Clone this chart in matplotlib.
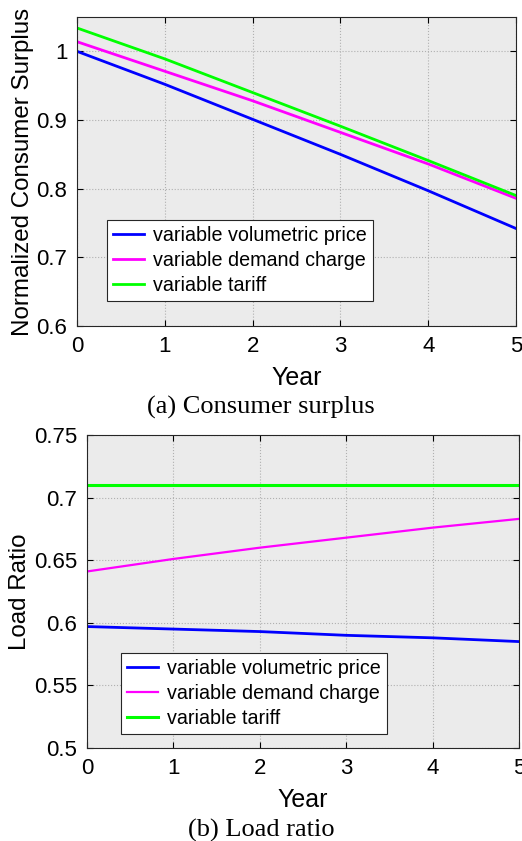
import matplotlib
matplotlib.use('Agg')
import matplotlib.pyplot as plt
import numpy as np

plt.rcParams['font.family'] = ['Liberation Sans', 'DejaVu Sans']

# data
years = [0, 1, 2, 3, 4, 5]
labels = ['variable volumetric price', 'variable demand charge', 'variable tariff']
colors = ['#0000ff', '#ff00ff', '#00ff00']

cs_vol = [1.000, 0.952, 0.901, 0.850, 0.797, 0.742]
cs_dem = [1.014, 0.971, 0.928, 0.882, 0.836, 0.786]
cs_tar = [1.034, 0.989, 0.940, 0.891, 0.841, 0.790]

lr_vol = [0.597, 0.595, 0.593, 0.590, 0.588, 0.585]
lr_dem = [0.641, 0.651, 0.660, 0.668, 0.676, 0.683]
lr_tar = [0.710, 0.710, 0.710, 0.710, 0.710, 0.710]

W, H = 522, 841
fig = plt.figure(figsize=(W/100, H/100), dpi=100)


def style(ax):
    ax.set_facecolor('#ebebeb')
    ax.grid(True, color='#b0b0b0', linestyle=':', linewidth=0.8)
    ax.tick_params(direction='in', top=True, right=True, labelsize=16, length=4,
                   width=0.8, pad=7)
    for s in ax.spines.values():
        s.set_color('#262626')
        s.set_linewidth(0.8)


def legend(ax, x0, y0):
    leg = ax.legend(loc='lower left', bbox_to_anchor=(x0, y0), fontsize=14.2,
                    frameon=True, fancybox=False, borderpad=0.3,
                    handlelength=1.6, handletextpad=0.45, labelspacing=0.3,
                    borderaxespad=0, framealpha=1)
    leg.get_frame().set_edgecolor('#262626')
    leg.get_frame().set_linewidth(0.8)


# (a) consumer surplus
ax1 = fig.add_axes([77/W, 1-326/H, (516-77)/W, (326-17)/H])
style(ax1)
for y, c, l, lw in zip([cs_vol, cs_dem, cs_tar], colors, labels, [2.0, 2.0, 2.0]):
    ax1.plot(years, y, color=c, lw=lw, label=l)
ax1.set_xlim(0, 5)
ax1.set_ylim(0.6, 1.05)
ax1.set_yticks([0.6, 0.7, 0.8, 0.9, 1.0])
ax1.set_yticklabels(['0.6', '0.7', '0.8', '0.9', '1'])
ax1.set_xticks(years)
ax1.set_xlabel('Year', fontsize=18, labelpad=7)
ax1.set_ylabel('Normalized Consumer Surplus', fontsize=17.4, labelpad=2)
legend(ax1, (107-77)/(516-77), (326-301)/(326-17))
fig.text(0.5, 1-414/H, '(a) Consumer surplus', ha='center', va='baseline',
         fontsize=19, family='Liberation Serif')

# (b) load ratio
ax2 = fig.add_axes([87/W, 1-748/H, (519-87)/W, (748-435)/H])
style(ax2)
for y, c, l, lw in zip([lr_vol, lr_dem, lr_tar], colors, labels, [2.0, 1.6, 2.2]):
    ax2.plot(years, y, color=c, lw=lw, label=l)
ax2.set_xlim(0, 5)
ax2.set_ylim(0.5, 0.75)
ax2.set_yticks([0.5, 0.55, 0.6, 0.65, 0.7, 0.75])
ax2.set_yticklabels(['0.5', '0.55', '0.6', '0.65', '0.7', '0.75'])
ax2.set_xticks(years)
ax2.set_xlabel('Year', fontsize=18, labelpad=7)
ax2.set_ylabel('Load Ratio', fontsize=17.4, labelpad=2)
legend(ax2, (121-87)/(519-87), (748-734)/(748-435))
fig.text(0.5, 1-837/H, '(b) Load ratio', ha='center', va='baseline',
         fontsize=19, family='Liberation Serif')

fig.savefig('out.png', dpi=100)
